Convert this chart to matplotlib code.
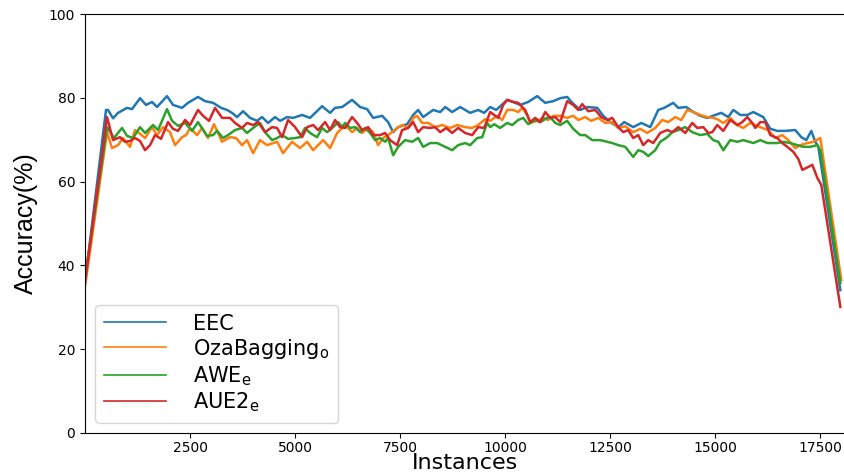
import matplotlib
matplotlib.use("Agg")
import matplotlib.pyplot as plt

# accuracy curves (instances, accuracy %)
eec_x = [0, 500, 548, 667, 786, 1000, 1119, 1310, 1452, 1595, 1714, 1952, 2095, 2310, 2452,
         2690, 2857, 3048, 3238, 3381, 3500, 3619, 3762, 3929, 4095, 4214, 4357, 4524, 4643,
         4810, 4952, 5167, 5357, 5643, 5833, 5952, 6119, 6357, 6548, 6714, 6857, 7072, 7214,
         7334, 7453, 7667, 7810, 7929, 8048, 8286, 8453, 8572, 8738, 8929, 9167, 9357, 9500,
         9643, 9786, 10048, 10191, 10357, 10548, 10762, 10953, 11143, 11310, 11476, 11596,
         11786, 11953, 12191, 12334, 12500, 12691, 12834, 13048, 13239, 13453, 13643, 13786,
         14000, 14120, 14310, 14477, 14643, 14810, 15000, 15143, 15310, 15429, 15596, 15762,
         15905, 16143, 16310, 16477, 16667, 16905, 17048, 17167, 17286, 17381, 17453, 17977]
eec_y = [36.0, 77.1, 77.1, 75.1, 76.4, 77.6, 77.3, 79.9, 78.3, 79.0, 77.8, 80.4, 78.3, 77.6, 78.8,
         80.2, 79.2, 78.8, 77.6, 77.1, 76.4, 75.4, 76.8, 75.2, 74.5, 75.4, 74.0, 75.4, 74.5,
         75.4, 75.2, 75.9, 75.2, 78.0, 76.4, 77.6, 77.8, 79.5, 77.8, 77.3, 75.2, 75.7, 74.2,
         71.8, 73.0, 73.7, 75.9, 77.1, 75.4, 77.1, 76.6, 77.8, 76.6, 77.8, 76.4, 77.1, 76.4,
         77.8, 77.1, 79.5, 79.0, 78.3, 79.0, 80.4, 78.8, 79.2, 79.9, 80.2, 78.8,
         77.1, 77.8, 77.6, 75.7, 74.2, 73.0, 74.2, 73.0, 74.0, 73.0, 77.1, 77.6,
         78.8, 77.6, 77.8, 76.6, 75.7, 75.2, 75.9, 76.4, 75.4, 77.1, 75.9, 75.9,
         76.6, 75.4, 72.6, 72.1, 72.1, 72.3, 70.6, 69.9, 72.1, 69.5, 68.3, 34.1]

oza_x = [0, 524, 643, 786, 905, 1071, 1190, 1310, 1429, 1595, 1714, 1857, 2024, 2143, 2310,
         2405, 2500, 2667, 2786, 2929, 3071, 3262, 3452, 3595, 3738, 3857, 4000, 4167, 4333,
         4572, 4714, 4929, 5119, 5286, 5429, 5667, 5833, 6000, 6191, 6357, 6476, 6595, 6738,
         6857, 6976, 7095, 7214, 7429, 7548, 7691, 7810, 7905, 8024, 8167, 8334, 8500, 8691,
         8857, 9048, 9215, 9357, 9524, 9643, 9810, 9929, 10048, 10191, 10310, 10405, 10524,
         10596, 10762, 10905, 11024, 11143, 11310, 11476, 11619, 11738, 11905, 12048, 12215,
         12381, 12548, 12691, 12857, 13048, 13215, 13381, 13572, 13738, 13881, 14048, 14191,
         14334, 14477, 14643, 14810, 14953, 15048, 15191, 15357, 15524, 15667, 15834, 15953,
         16119, 16262, 16429, 16596, 16739, 16905, 17024, 17191, 17334, 17500, 18000]
oza_y = [35.0, 71.8, 68.0, 68.7, 70.4, 68.3, 72.3, 71.4, 70.4, 73.0, 71.1, 73.0, 71.8, 68.7, 70.6,
         71.1, 72.8, 71.1, 72.8, 70.4, 73.7, 69.5, 70.6, 70.4, 68.7, 69.9, 66.8, 69.9, 68.7,
         69.5, 66.8, 69.5, 68.0, 69.5, 67.5, 69.9, 68.0, 71.6, 73.5, 71.8, 72.8, 71.6, 72.8,
         71.8, 68.7, 70.4, 71.1, 72.8, 73.5, 72.8, 75.2, 75.7, 74.0, 74.0, 73.0, 73.5, 72.8,
         73.5, 73.0, 72.8, 73.5, 74.9, 74.5, 75.7, 74.7, 77.1, 77.1, 76.6, 77.6, 75.9,
         74.0, 74.5, 75.2, 74.7, 75.7, 75.7, 75.2, 75.7, 74.7, 75.4, 74.5, 75.2,
         74.0, 74.2, 72.8, 73.2, 71.8, 72.6, 71.6, 72.8, 74.7, 74.2, 75.4, 74.7,
         77.1, 76.6, 75.9, 75.4, 75.2, 74.9, 74.0, 75.2, 73.5, 72.8, 74.0, 73.5,
         72.8, 72.3, 70.4, 71.1, 69.9, 68.0, 68.7, 69.2, 69.5, 70.4, 36.5]

awe_x = [0, 524, 690, 881, 1000, 1143, 1310, 1429, 1619, 1738, 1952, 2071, 2214, 2381, 2548,
         2690, 2905, 3048, 3143, 3286, 3405, 3571, 3738, 3857, 4000, 4167, 4286, 4452, 4572,
         4690, 4833, 5000, 5119, 5238, 5357, 5524, 5643, 5762, 5905, 6024, 6119, 6191, 6310,
         6429, 6548, 6667, 6786, 6905, 7024, 7143, 7214, 7334, 7453, 7619, 7786, 7929, 8048,
         8215, 8381, 8572, 8738, 8881, 9048, 9167, 9334, 9453, 9572, 9643, 9738, 9881, 10048,
         10167, 10310, 10429, 10548, 10715, 10834, 11000, 11072, 11191, 11310, 11476, 11619,
         11786, 11905, 12072, 12262, 12548, 12691, 12857, 13048, 13167, 13286, 13405, 13572,
         13691, 13858, 13977, 14120, 14286, 14453, 14643, 14810, 14953, 15072, 15191, 15357,
         15524, 15667, 15905, 16072, 16239, 16477, 16620, 16786, 16953, 17096, 17262, 17429,
         17500, 17977]
awe_y = [37.0, 73.0, 70.4, 72.8, 70.9, 70.4, 73.0, 71.6, 73.5, 72.3, 77.3, 74.5, 73.3, 74.0, 72.1,
         74.2, 70.9, 71.1, 72.1, 70.4, 71.1, 72.3, 72.8, 71.6, 72.8, 74.0, 71.8, 69.9, 70.4,
         71.1, 70.2, 70.4, 70.6, 72.8, 71.6, 70.6, 72.8, 71.8, 73.0, 74.2, 73.0, 74.0, 72.8,
         73.0, 71.8, 72.8, 71.6, 69.9, 70.4, 69.5, 70.4, 66.3, 68.3, 69.9, 69.5, 70.4, 68.3,
         69.2, 69.2, 68.3, 67.5, 68.7, 69.2, 68.7, 70.4, 70.6, 74.0, 73.0, 73.7, 72.8, 74.0,
         73.5, 74.7, 75.2, 73.7, 74.7, 74.2, 75.2, 75.4, 74.0, 73.5, 74.5, 72.6,
         71.1, 71.1, 69.9, 69.9, 69.2, 68.7, 68.3, 65.9, 67.5, 67.1, 66.1, 67.5,
         69.5, 70.6, 71.8, 72.3, 73.0, 71.8, 71.1, 71.4, 69.9, 69.5, 67.5, 69.9,
         69.5, 69.9, 69.2, 69.9, 69.2, 69.2, 69.5, 69.2, 68.7, 68.3, 68.3, 68.7,
         67.5, 35.8]

aue_x = [0, 524, 667, 833, 952, 1071, 1190, 1310, 1429, 1548, 1667, 1810, 1976, 2095, 2214,
         2381, 2500, 2690, 2810, 2952, 3095, 3262, 3452, 3571, 3738, 3857, 4000, 4119, 4286,
         4452, 4572, 4690, 4833, 5000, 5167, 5286, 5429, 5548, 5714, 5833, 5952, 6071, 6191,
         6357, 6476, 6595, 6738, 6857, 7024, 7143, 7262, 7429, 7548, 7691, 7810, 7929, 8048,
         8215, 8334, 8453, 8596, 8738, 8881, 9048, 9215, 9357, 9500, 9643, 9738, 9834, 9953,
         10048, 10191, 10310, 10476, 10596, 10715, 10834, 10953, 11072, 11191, 11310, 11476,
         11619, 11738, 11834, 11977, 12143, 12286, 12429, 12548, 12691, 12810, 12929, 13048,
         13167, 13286, 13405, 13524, 13691, 13858, 13977, 14120, 14286, 14453, 14572, 14715,
         14834, 14929, 15048, 15191, 15357, 15524, 15643, 15762, 15881, 15953, 16072, 16191,
         16310, 16477, 16596, 16715, 16858, 16977, 17072, 17215, 17310, 17429, 17524, 17977]
aue_y = [36.0, 75.4, 69.9, 70.6, 69.5, 69.7, 70.4, 69.7, 67.5, 68.7, 71.1, 70.2, 74.2, 72.6, 72.1,
         74.7, 73.5, 77.1, 75.7, 74.5, 77.6, 75.2, 75.2, 74.0, 72.8, 74.0, 73.5, 74.2, 71.8,
         73.0, 72.8, 70.6, 74.7, 73.0, 70.6, 73.0, 73.5, 72.3, 74.2, 72.3, 74.7, 73.0, 72.8,
         75.4, 74.0, 72.3, 73.0, 71.1, 71.1, 71.6, 69.9, 68.7, 72.3, 72.8, 74.2, 71.8, 73.0,
         72.8, 73.0, 71.8, 72.8, 71.6, 72.8, 71.6, 71.1, 73.0, 72.8, 76.6, 75.9, 75.2, 78.3,
         79.5, 79.0, 78.8, 77.1, 74.2, 75.2, 74.2, 76.6, 75.2, 75.4, 74.2, 79.2,
         78.3, 77.1, 78.5, 76.8, 77.1, 75.4, 74.7, 75.2, 73.0, 71.8, 72.3, 70.4,
         71.1, 68.7, 69.9, 69.2, 71.6, 72.3, 71.8, 73.0, 71.6, 74.0, 72.8, 73.0,
         71.6, 71.8, 73.5, 72.1, 74.7, 73.5, 74.2, 75.4, 74.0, 72.8, 74.2, 74.2,
         71.1, 70.4, 69.2, 68.3, 67.1, 65.4, 62.8, 63.5, 64.0, 60.9, 59.2, 30.1]

labels = ['EEC', r'OzaBagging$_{\mathregular{o}}$', r'AWE$_{\mathregular{e}}$',
          r'AUE2$_{\mathregular{e}}$']
x_ticks = [2500, 5000, 7500, 10000, 12500, 15000, 17500]
y_ticks = [0, 20, 40, 60, 80, 100]

fig = plt.figure(figsize=(8.45, 4.73), dpi=100)
ax = fig.add_axes([0.1006, 0.0846, 0.9, 0.8858])

ax.plot(eec_x, eec_y, color='#1f77b4', lw=1.8, label=labels[0])
ax.plot(oza_x, oza_y, color='#ff7f0e', lw=1.8, label=labels[1])
ax.plot(awe_x, awe_y, color='#2ca02c', lw=1.8, label=labels[2])
ax.plot(aue_x, aue_y, color='#d62728', lw=1.8, label=labels[3])

ax.set_xlim(0, 18100)
ax.set_ylim(0, 100)
ax.set_xticks(x_ticks)
ax.set_yticks(y_ticks)
ax.tick_params(labelsize=10)
ax.tick_params(axis='x', pad=2)
ax.spines['right'].set_visible(False)

ax.set_xlabel('Instances', fontsize=16, labelpad=-1)
ax.set_ylabel('Accuracy(%)', fontsize=18, family='Liberation Sans', labelpad=8)

leg = ax.legend(loc='lower left', fontsize=15, handlelength=3.0, handletextpad=1.3,
                labelspacing=0.15, borderaxespad=0.5, borderpad=0.4)
for l in leg.get_lines():
    l.set_linewidth(1.2)

fig.savefig('out.png', dpi=100)
